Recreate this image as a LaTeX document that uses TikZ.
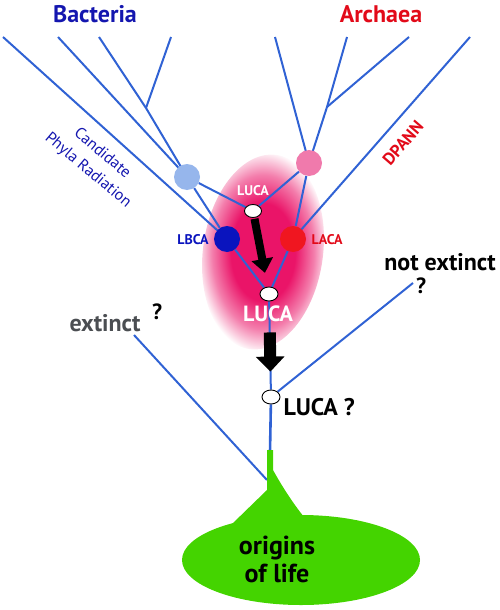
\documentclass[tikz,border=0pt]{standalone}
\usepackage{fontspec}
\setmainfont{PT Sans}
\usetikzlibrary{arrows.meta,shapes.geometric,backgrounds}
\definecolor{branchblue}{RGB}{48,98,212}
\definecolor{bactblue}{RGB}{20,22,175}
\definecolor{archred}{RGB}{226,10,25}
\definecolor{lbcablue}{RGB}{10,20,190}
\definecolor{lacared}{RGB}{240,22,32}
\definecolor{cprblue}{RGB}{150,182,236}
\definecolor{dpannpink}{RGB}{240,122,172}
\definecolor{glowpink}{RGB}{234,20,104}
\definecolor{lifegreen}{RGB}{68,212,0}
\definecolor{extgray}{RGB}{75,78,82}
\pgfdeclareradialshading{lucaglow}{\pgfpoint{0bp}{0bp}}{%
  color(0bp)=(glowpink); color(12bp)=(glowpink); color(19bp)=(glowpink!55!white);
  color(25bp)=(white); color(50bp)=(white)}
\tikzset{
  branch/.style={draw=branchblue, line width=2pt},
  ancestor/.style={circle, minimum size=26pt, inner sep=0pt},
  lucadot/.style={ellipse, draw=black, fill=white, line width=0.9pt, inner sep=0pt},
  fatarrow/.style={draw=black, line cap=butt},
  title/.style={font=\fontsize{24}{26}\selectfont\bfseries},
  biglabel/.style={font=\fontsize{24}{26}\selectfont\bfseries},
  qmark/.style={font=\fontsize{22}{24}\selectfont\bfseries},
  smalllabel/.style={font=\fontsize{14}{15}\selectfont\bfseries}
}
\begin{document}
\begin{tikzpicture}[x=1pt,y=-1pt]
  \useasboundingbox (0,0) rectangle (500,610);

  % tips of the tree
  \coordinate (b1) at (3,37);
  \coordinate (b2) at (58,37);
  \coordinate (b3) at (99,37);
  \coordinate (b4) at (171,37);
  \coordinate (bsplit) at (146,108);
  \coordinate (a1) at (275,37);
  \coordinate (a2) at (347,37);
  \coordinate (a3) at (409,37);
  \coordinate (asplit) at (327,107);
  \coordinate (a4) at (470,37);
  \coordinate (notext) at (413,283);
  \coordinate (ext) at (134,335);
  \coordinate (extend) at (267,480);
  \coordinate (stalk) at (270,452);

  % ancestors
  \node[ancestor, fill=cprblue] (cpr) at (187,177) {};
  \node[ancestor, fill=dpannpink] (dpann) at (309,163) {};
  \node[ancestor, fill=lbcablue] (lbca) at (227,239) {};
  \node[ancestor, fill=lacared] (laca) at (293,239) {};
  \node[lucadot, minimum width=17pt, minimum height=13pt] (luca1) at (253,211) {};
  \node[lucadot, minimum width=18pt, minimum height=14pt] (luca2) at (269,294) {};
  \node[lucadot, minimum width=18pt, minimum height=14pt] (luca3) at (271,397) {};

  \begin{scope}[on background layer]
  % glow round the two LUCAs
  \shade[shading=lucaglow, rotate around={-8:(263,252)}] (263,252) ellipse (60 and 98);
  % branches
  \draw[branch] (b1) -- (lbca.center);
  \draw[branch] (b2) -- (cpr.center);
  \draw[branch] (b3) -- (bsplit) -- (cpr.center);
  \draw[branch] (b4) -- (bsplit);
  \draw[branch] (cpr) -- (lbca);
  \draw[branch] (cpr) -- (luca1);
  \draw[branch] (a1) -- (dpann.center);
  \draw[branch] (a2) -- (asplit) -- (dpann.center);
  \draw[branch] (a3) -- (asplit);
  \draw[branch] (dpann) -- (luca1);
  \draw[branch] (dpann) -- (laca);
  \draw[branch] (a4) -- (laca.center);
  \draw[branch] (lbca) -- (luca2);
  \draw[branch] (laca) -- (luca2);
  \draw[branch] (luca2) -- (luca3);
  \draw[branch, line width=2.6pt] (luca3) -- (stalk);
  \draw[branch] (luca3) -- (notext);
  \draw[branch] (ext) -- (extend);
  \end{scope}

  % arrows
  \draw[fatarrow, line width=8pt, -{Triangle[width=21pt,length=14pt]},
        shorten <=1pt, shorten >=14pt] (luca1) -- (luca2);
  \draw[fatarrow, line width=12pt, -{Triangle[width=28pt,length=15pt]},
        shorten <=31pt, shorten >=18pt] (luca2) -- (luca3);

  % labels
  \node[title, text=bactblue] (bact) at (95,14) {Bacteria};
  \node[title, text=archred] (arch) at (381,14) {Archaea};
  \node[text=bactblue, align=center, rotate=-40,
        font=\fontsize{16}{22}\selectfont] (cprlabel) at (95,162) {Candidate\\Phyla Radiation};
  \node[text=archred, rotate=49, font=\fontsize{17}{19}\selectfont\bfseries] (dpannlabel) at (403,143) {DPANN};
  \node[smalllabel, text=lbcablue, anchor=east] (lbcalabel) at (212,240) {LBCA};
  \node[smalllabel, text=archred, anchor=west] (lacalabel) at (308,240) {LACA};
  \node[smalllabel, text=white] (luca1label) at (253,191) {LUCA};
  \node[text=white, font=\fontsize{22}{24}\selectfont\bfseries] (luca2label) at (268,314) {LUCA};
  \node[biglabel, anchor=west] (luca3label) at (280,407) {LUCA ?};
  \node[biglabel] (notextlabel) at (440,262) {not extinct};
  \node[qmark] (notextq) at (421,286) {?};
  \node[biglabel, text=extgray] (extlabel) at (105,323) {extinct};
  \node[qmark] (extq) at (157,312) {?};

  % origins of life
  \fill[lifegreen] (267,450) -- (273,450) -- (273,470)
    .. controls (283,488) and (294,505) .. (308,522) -- (232,524)
    -- (267,490) -- cycle;
  \fill[lifegreen] (301,560) ellipse (119 and 45);
  \node[align=center, font=\fontsize{26}{28}\selectfont\bfseries] (origins) at (277,559) {origins\\of life};
\end{tikzpicture}
\end{document}
